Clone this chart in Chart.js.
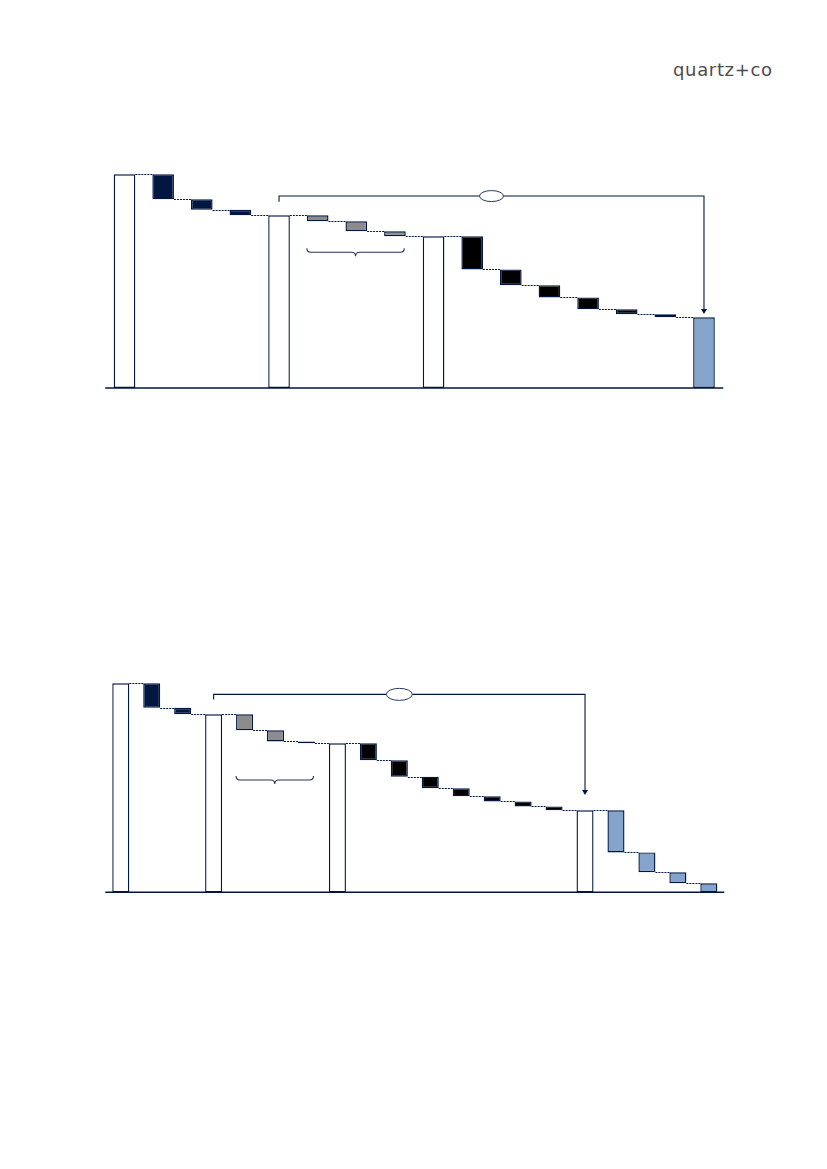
<!DOCTYPE html>
<html>
<head>
<meta charset="utf-8">
<script src="https://cdn.jsdelivr.net/npm/chart.js@4"></script>
<style>
  html, body { margin: 0; padding: 0; background: #fff; }
  body { width: 827px; height: 1169px; position: relative; overflow: hidden; }
  .logo { position: absolute; left: 673px; top: 61px; font-family: "DejaVu Sans", sans-serif; font-weight: normal; font-size: 18px; line-height: 18px; color: #4d4d4d; white-space: nowrap; -webkit-text-stroke: 0; }
  .wrap { position: absolute; }
</style>
</head>
<body>
<div class="logo" id="logo">quartz+co</div>
<div class="wrap" style="left:100px; top:140px;"><canvas id="c1" width="630" height="252"></canvas></div>
<div class="wrap" style="left:100px; top:650px;"><canvas id="c2" width="630" height="246"></canvas></div>
<script>
// ---------- Data: chart 1 ----------
const categories1 = ["Start", "A1", "A2", "A3", "Sub 1", "B1", "B2", "B3", "Sub 2", "C1", "C2", "C3", "C4", "C5", "C6", "End"];
const levels1 = [100, 88.3, 83.4, 80.8, 80.8, 78.0, 73.3, 71.0, 71.0, 55.5, 48.1, 42.4, 36.8, 34.5, 33.1, 33.1];
const groups1 = ["total", "navy", "navy", "navy", "total", "grey", "grey", "grey", "total", "black", "black", "black", "black", "black", "black", "result"];

// ---------- Data: chart 2 ----------
const categories2 = ["Start", "A1", "A2", "Sub 1", "B1", "B2", "B3", "Sub 2", "C1", "C2", "C3", "C4", "C5", "C6", "C7", "Sub 3", "D1", "D2", "D3", "D4"];
const levels2 = [100, 88.3, 85.2, 85.2, 77.5, 72.2, 71.3, 71.3, 63.2, 55.3, 49.8, 45.9, 43.5, 41.1, 39.2, 39.2, 19.1, 9.6, 4.3, 0];
const groups2 = ["total", "navy", "navy", "total", "grey", "grey", "grey", "total", "black", "black", "black", "black", "black", "black", "black", "total", "blue", "blue", "blue", "blue"];

// annotation anchors (category indices / values)
const bracket1 = { from: 4, to: 15, level: 89.8, tick: 87.2, ovalAt: 9.5, arrowTip: 34.6 };
const brace1 = { from: 5, to: 7, level: 63.5 };
const bracket2 = { from: 3, to: 15, level: 94.7, tick: 92.3, ovalAt: 9, arrowTip: 46.6 };
const brace2 = { from: 4, to: 6, level: 53.7 };

// fit logo text to its width in the reference
(function () {
  const el = document.getElementById("logo");
  const target = 99;
  const w = el.getBoundingClientRect().width;
  const n = el.textContent.length - 1;
  el.style.letterSpacing = ((target - w) / n) + "px";
})();

const NAVY = "#011640";
const FILL = { total: "#ffffff", navy: NAVY, grey: "#8c8c8c", black: "#000000", result: "#84a4cc", blue: "#84a4cc" };

function floating(levels, groups) {
  return levels.map((v, i) => {
    if (groups[i] === "total" || groups[i] === "result") return [0, v];
    return [levels[i - 1], v];
  });
}

const annotPlugin = {
  id: "annot",
  afterDatasetsDraw(chart, args, opts) {
    const ctx = chart.ctx;
    const xs = chart.scales.x, ys = chart.scales.y;
    const meta = chart.getDatasetMeta(0);
    const levels = opts.levels;
    const xc = i => {
      const lo = Math.floor(i), hi = Math.ceil(i);
      return (xs.getPixelForValue(lo) + xs.getPixelForValue(hi)) / 2;
    };
    ctx.save();
    // connectors
    ctx.strokeStyle = NAVY;
    ctx.lineWidth = 1;
    ctx.setLineDash([2, 1]);
    for (let i = 0; i < levels.length - 1; i++) {
      const b = meta.data[i], n = meta.data[i + 1];
      const y = Math.round(ys.getPixelForValue(levels[i])) + 0.5;
      ctx.beginPath();
      ctx.moveTo(b.x + b.width / 2, y);
      ctx.lineTo(n.x - n.width / 2, y);
      ctx.stroke();
    }
    ctx.setLineDash([]);
    // axis line
    const y0 = ys.getPixelForValue(0);
    ctx.lineWidth = 1.6;
    ctx.beginPath();
    ctx.moveTo(chart.chartArea.left, y0);
    ctx.lineTo(chart.chartArea.right, y0);
    ctx.stroke();
    // bracket
    const br = opts.bracket;
    const bx0 = xc(br.from), bx1 = xc(br.to);
    const by = ys.getPixelForValue(br.level);
    ctx.lineWidth = 1.1;
    ctx.beginPath();
    ctx.moveTo(bx0, ys.getPixelForValue(br.tick));
    ctx.lineTo(bx0, by);
    ctx.lineTo(bx1, by);
    const tipY = ys.getPixelForValue(br.arrowTip);
    ctx.lineTo(bx1, tipY - 4);
    ctx.stroke();
    ctx.fillStyle = NAVY;
    ctx.beginPath();
    ctx.moveTo(bx1 - 3, tipY - 5);
    ctx.lineTo(bx1 + 3, tipY - 5);
    ctx.lineTo(bx1, tipY);
    ctx.closePath();
    ctx.fill();
    // oval
    const ox = xc(br.ovalAt);
    ctx.fillStyle = "#ffffff";
    ctx.strokeStyle = "#2a3a5e";
    ctx.lineWidth = 1;
    ctx.beginPath();
    ctx.ellipse(ox, by, opts.ovalW / 2, opts.ovalH / 2, 0, 0, Math.PI * 2);
    ctx.fill();
    ctx.stroke();
    // brace
    const bc = opts.brace;
    const l = meta.data[bc.from], r = meta.data[bc.to];
    const x0 = l.x - l.width / 2, x1 = r.x + r.width / 2 - 1.5;
    const yb = ys.getPixelForValue(bc.level);
    const xm = (x0 + x1) / 2;
    ctx.strokeStyle = "#22345a";
    ctx.lineWidth = 1.1;
    ctx.beginPath();
    ctx.moveTo(x0, yb - 4);
    ctx.quadraticCurveTo(x0, yb, x0 + 4, yb);
    ctx.lineTo(xm - 4, yb);
    ctx.quadraticCurveTo(xm, yb, xm, yb + 4);
    ctx.quadraticCurveTo(xm, yb, xm + 4, yb);
    ctx.lineTo(x1 - 4, yb);
    ctx.quadraticCurveTo(x1, yb, x1, yb - 4);
    ctx.stroke();
    ctx.restore();
  }
};

function makeChart(id, cats, levels, groups, pad, barPct, bracket, brace, ovalW, ovalH) {
  return new Chart(document.getElementById(id), {
    type: "bar",
    data: {
      labels: cats,
      datasets: [{
        data: floating(levels, groups),
        backgroundColor: groups.map(g => FILL[g]),
        borderColor: NAVY,
        borderWidth: 1.4,
        borderSkipped: false,
        categoryPercentage: 1,
        barPercentage: barPct
      }]
    },
    options: {
      responsive: false,
      animation: false,
      layout: { padding: pad },
      plugins: {
        legend: { display: false },
        tooltip: { enabled: false },
        annot: { levels, bracket, brace, ovalW, ovalH }
      },
      scales: {
        x: { display: false },
        y: { display: false, min: 0, max: 110 }
      }
    },
    plugins: [annotPlugin]
  });
}

makeChart("c1", categories1, levels1, groups1,
  { left: 5.2, right: 6.7, top: 12.9, bottom: 4 }, 0.56, bracket1, brace1, 24, 11);
makeChart("c2", categories2, levels2, groups2,
  { left: 5.3, right: 5.7, top: 12.4, bottom: 3.7 }, 0.55, bracket2, brace2, 26, 12);
</script>
</body>
</html>
